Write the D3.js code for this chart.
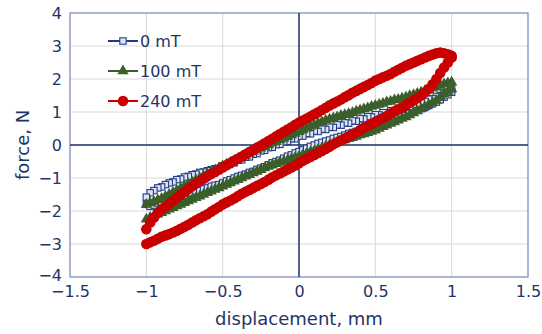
<!DOCTYPE html>
<html><head><meta charset="utf-8">
<script src="https://cdn.jsdelivr.net/npm/d3@7"></script>
<style>body{margin:0;background:#fff}svg{display:block}text{font-family:"DejaVu Sans",Verdana,sans-serif;fill:#1F3468}</style>
</head><body><svg id="c" width="542" height="334"></svg>
<script>
const disp = [-1,-0.975,-0.95,-0.925,-0.9,-0.875,-0.85,-0.825,-0.8,-0.775,-0.75,-0.725,-0.7,-0.675,-0.65,-0.625,-0.6,-0.575,-0.55,-0.525,-0.5,-0.475,-0.45,-0.425,-0.4,-0.375,-0.35,-0.325,-0.3,-0.275,-0.25,-0.225,-0.2,-0.175,-0.15,-0.125,-0.1,-0.075,-0.05,-0.025,0,0.025,0.05,0.075,0.1,0.125,0.15,0.175,0.2,0.225,0.25,0.275,0.3,0.325,0.35,0.375,0.4,0.425,0.45,0.475,0.5,0.525,0.55,0.575,0.6,0.625,0.65,0.675,0.7,0.725,0.75,0.775,0.8,0.825,0.85,0.875,0.9,0.925,0.95,0.975,1];
const up0 = [-1.58,-1.45,-1.38,-1.3,-1.27,-1.2,-1.15,-1.12,-1.05,-1.03,-0.97,-0.95,-0.9,-0.88,-0.83,-0.82,-0.78,-0.75,-0.72,-0.71,-0.63,-0.62,-0.55,-0.54,-0.46,-0.45,-0.37,-0.36,-0.28,-0.26,-0.18,-0.16,-0.08,-0.07,0.01,0.02,0.1,0.11,0.19,0.19,0.27,0.27,0.35,0.34,0.42,0.41,0.48,0.47,0.54,0.53,0.61,0.6,0.67,0.66,0.73,0.72,0.8,0.79,0.86,0.85,0.92,0.91,0.98,0.97,1.04,1.03,1.1,1.1,1.17,1.17,1.24,1.25,1.32,1.32,1.39,1.4,1.47,1.5,1.58,1.6,1.7];
const lo0 = [-1.8,-1.86,-1.82,-1.76,-1.75,-1.7,-1.68,-1.62,-1.6,-1.55,-1.53,-1.47,-1.45,-1.4,-1.38,-1.33,-1.3,-1.25,-1.22,-1.2,-1.15,-1.09,-1.05,-1.0,-0.95,-0.92,-0.88,-0.83,-0.8,-0.74,-0.7,-0.66,-0.6,-0.54,-0.5,-0.46,-0.4,-0.34,-0.3,-0.24,-0.2,-0.15,-0.1,-0.04,0.0,0.05,0.08,0.12,0.15,0.2,0.23,0.26,0.3,0.35,0.38,0.41,0.45,0.5,0.53,0.56,0.6,0.65,0.68,0.71,0.75,0.8,0.83,0.86,0.9,0.96,1.0,1.05,1.1,1.14,1.2,1.25,1.3,1.37,1.45,1.52,1.6];
const up100 = [-1.8,-1.76,-1.72,-1.67,-1.62,-1.56,-1.5,-1.44,-1.38,-1.31,-1.25,-1.18,-1.12,-1.06,-1.0,-0.94,-0.88,-0.82,-0.76,-0.7,-0.64,-0.58,-0.53,-0.47,-0.42,-0.36,-0.31,-0.25,-0.2,-0.15,-0.1,-0.05,0.0,0.05,0.1,0.15,0.2,0.25,0.3,0.35,0.4,0.46,0.51,0.56,0.6,0.67,0.7,0.75,0.78,0.82,0.85,0.89,0.92,0.95,0.98,1.02,1.05,1.09,1.12,1.17,1.2,1.23,1.26,1.3,1.32,1.36,1.38,1.42,1.45,1.49,1.52,1.56,1.6,1.64,1.67,1.72,1.75,1.8,1.85,1.88,1.9];
const lo100 = [-2.25,-2.2,-2.15,-2.1,-2.05,-2.0,-1.95,-1.9,-1.85,-1.8,-1.75,-1.7,-1.65,-1.6,-1.55,-1.5,-1.45,-1.4,-1.35,-1.3,-1.25,-1.2,-1.15,-1.1,-1.05,-1.0,-0.95,-0.9,-0.85,-0.8,-0.75,-0.7,-0.65,-0.61,-0.57,-0.53,-0.5,-0.46,-0.42,-0.38,-0.35,-0.3,-0.26,-0.22,-0.18,-0.13,-0.09,-0.04,0.0,0.04,0.08,0.12,0.15,0.19,0.22,0.26,0.3,0.33,0.37,0.41,0.45,0.5,0.55,0.6,0.65,0.7,0.75,0.8,0.85,0.91,0.97,1.03,1.1,1.16,1.22,1.28,1.35,1.45,1.55,1.62,1.7];
const up240 = [-2.55,-2.35,-2.2,-2.06,-1.95,-1.86,-1.78,-1.69,-1.6,-1.51,-1.42,-1.33,-1.25,-1.17,-1.1,-1.02,-0.95,-0.88,-0.82,-0.75,-0.68,-0.61,-0.55,-0.48,-0.42,-0.35,-0.28,-0.21,-0.15,-0.08,-0.02,0.05,0.12,0.19,0.26,0.33,0.4,0.47,0.54,0.61,0.68,0.74,0.8,0.86,0.93,0.99,1.06,1.13,1.2,1.26,1.32,1.38,1.45,1.51,1.58,1.64,1.7,1.76,1.82,1.88,1.95,2.0,2.05,2.1,2.15,2.22,2.28,2.34,2.4,2.45,2.5,2.55,2.6,2.65,2.7,2.74,2.78,2.8,2.78,2.75,2.7];
const lo240 = [-3.0,-2.95,-2.9,-2.84,-2.78,-2.74,-2.7,-2.65,-2.6,-2.54,-2.48,-2.42,-2.35,-2.28,-2.22,-2.16,-2.1,-2.02,-1.95,-1.88,-1.8,-1.74,-1.68,-1.62,-1.55,-1.48,-1.42,-1.36,-1.3,-1.24,-1.18,-1.12,-1.05,-0.98,-0.92,-0.86,-0.8,-0.74,-0.68,-0.62,-0.55,-0.48,-0.42,-0.36,-0.3,-0.24,-0.18,-0.12,-0.05,0.02,0.08,0.14,0.2,0.26,0.32,0.38,0.45,0.52,0.58,0.64,0.7,0.76,0.82,0.88,0.95,1.02,1.08,1.14,1.2,1.28,1.35,1.42,1.5,1.6,1.7,1.84,2.0,2.18,2.35,2.5,2.65];
const seriesNames = ["0 mT","100 mT","240 mT"];
const xTicks = [-1.5,-1,-0.5,0,0.5,1,1.5];
const yTicks = [-4,-3,-2,-1,0,1,2,3,4];

const svg = d3.select("#c");
const x = d3.scaleLinear().domain([-1.5,1.5]).range([70,528]);
const y = d3.scaleLinear().domain([-4,4]).range([277,13]);
const navy = "#1F3468";

svg.append("g").selectAll("line").data(xTicks).join("line")
  .attr("x1",d=>x(d)).attr("x2",d=>x(d)).attr("y1",y(4)).attr("y2",y(-4))
  .attr("stroke","#D9D9D9").attr("stroke-width",1);
svg.append("g").selectAll("line").data(yTicks).join("line")
  .attr("y1",d=>y(d)).attr("y2",d=>y(d)).attr("x1",x(-1.5)).attr("x2",x(1.5))
  .attr("stroke","#D9D9D9").attr("stroke-width",1);
svg.append("rect").attr("x",x(-1.5)).attr("y",y(4)).attr("width",x(1.5)-x(-1.5)).attr("height",y(-4)-y(4))
  .attr("fill","none").attr("stroke","#8093C4").attr("stroke-width",1.2);
svg.append("line").attr("x1",x(0)).attr("x2",x(0)).attr("y1",y(4)).attr("y2",y(-4)).attr("stroke",navy).attr("stroke-width",1.5);
svg.append("line").attr("y1",y(0)).attr("y2",y(0)).attr("x1",x(-1.5)).attr("x2",x(1.5)).attr("stroke",navy).attr("stroke-width",1.5);

const ax = svg.append("g").attr("transform",`translate(0,${y(-4)})`)
  .call(d3.axisBottom(x).tickValues(xTicks).tickSize(0).tickPadding(9).tickFormat(d3.format("")));
ax.select(".domain").remove();
ax.selectAll("text").attr("font-size",16).style("font-family","'DejaVu Sans',Verdana,sans-serif").attr("fill",navy);
const ay = svg.append("g").attr("transform",`translate(${x(-1.5)},0)`)
  .call(d3.axisLeft(y).tickValues(yTicks).tickSize(0).tickPadding(8).tickFormat(d3.format("")));
ay.select(".domain").remove();
ay.selectAll("text").attr("font-size",16).style("font-family","'DejaVu Sans',Verdana,sans-serif").attr("fill",navy);
ay.selectAll(".tick").filter(d=>d===-4).select("text").attr("dy","0.2em");

svg.append("text").attr("x",x(0)).attr("y",325).attr("text-anchor","middle").attr("font-size",18).text("displacement, mm");
svg.append("text").attr("transform",`translate(29,${y(0)}) rotate(-90)`).attr("text-anchor","middle").attr("font-size",18).text("force, N");

function loop(lo, up){
  const pts = disp.map((d,i)=>[d, lo[i]]);
  for(let i=disp.length-1;i>=0;i--) pts.push([disp[i], up[i]]);
  return pts;
}
const styles = [
  {data: loop(lo0, up0), color:"#1F3C88", shape:"sq"},
  {data: loop(lo100, up100), color:"#3A5F2A", shape:"tri"},
  {data: loop(lo240, up240), color:"#C80000", shape:"cir"}
];
const line = d3.line().x(d=>x(d[0])).y(d=>y(d[1]));
function marker(g, s, px, py){
  if(s.shape==="sq") g.append("rect").attr("x",px-3.2).attr("y",py-3.2).attr("width",6.4).attr("height",6.4)
      .attr("fill","#dfe4f2").attr("stroke",s.color).attr("stroke-width",1.1);
  else if(s.shape==="tri") g.append("path").attr("d",d3.symbol(d3.symbolTriangle,55)()).attr("transform",`translate(${px},${py})`).attr("fill",s.color);
  else g.append("circle").attr("cx",px).attr("cy",py).attr("r",5.3).attr("fill",s.color);
}
styles.forEach(s=>{
  const g = svg.append("g");
  g.append("path").attr("d",line(s.data)).attr("fill","none").attr("stroke",s.color).attr("stroke-width",2);
  s.data.forEach(d=>marker(g,s,x(d[0]),y(d[1])));
});

const leg = svg.append("g");
seriesNames.forEach((n,i)=>{
  const cy = 41 + i*30;
  leg.append("line").attr("x1",108).attr("x2",138).attr("y1",cy).attr("y2",cy).attr("stroke",styles[i].color).attr("stroke-width",2);
  marker(leg, styles[i], 123, cy);
  leg.append("text").attr("x",140).attr("y",cy+6).attr("font-size",16).text(n);
});
</script></body></html>
